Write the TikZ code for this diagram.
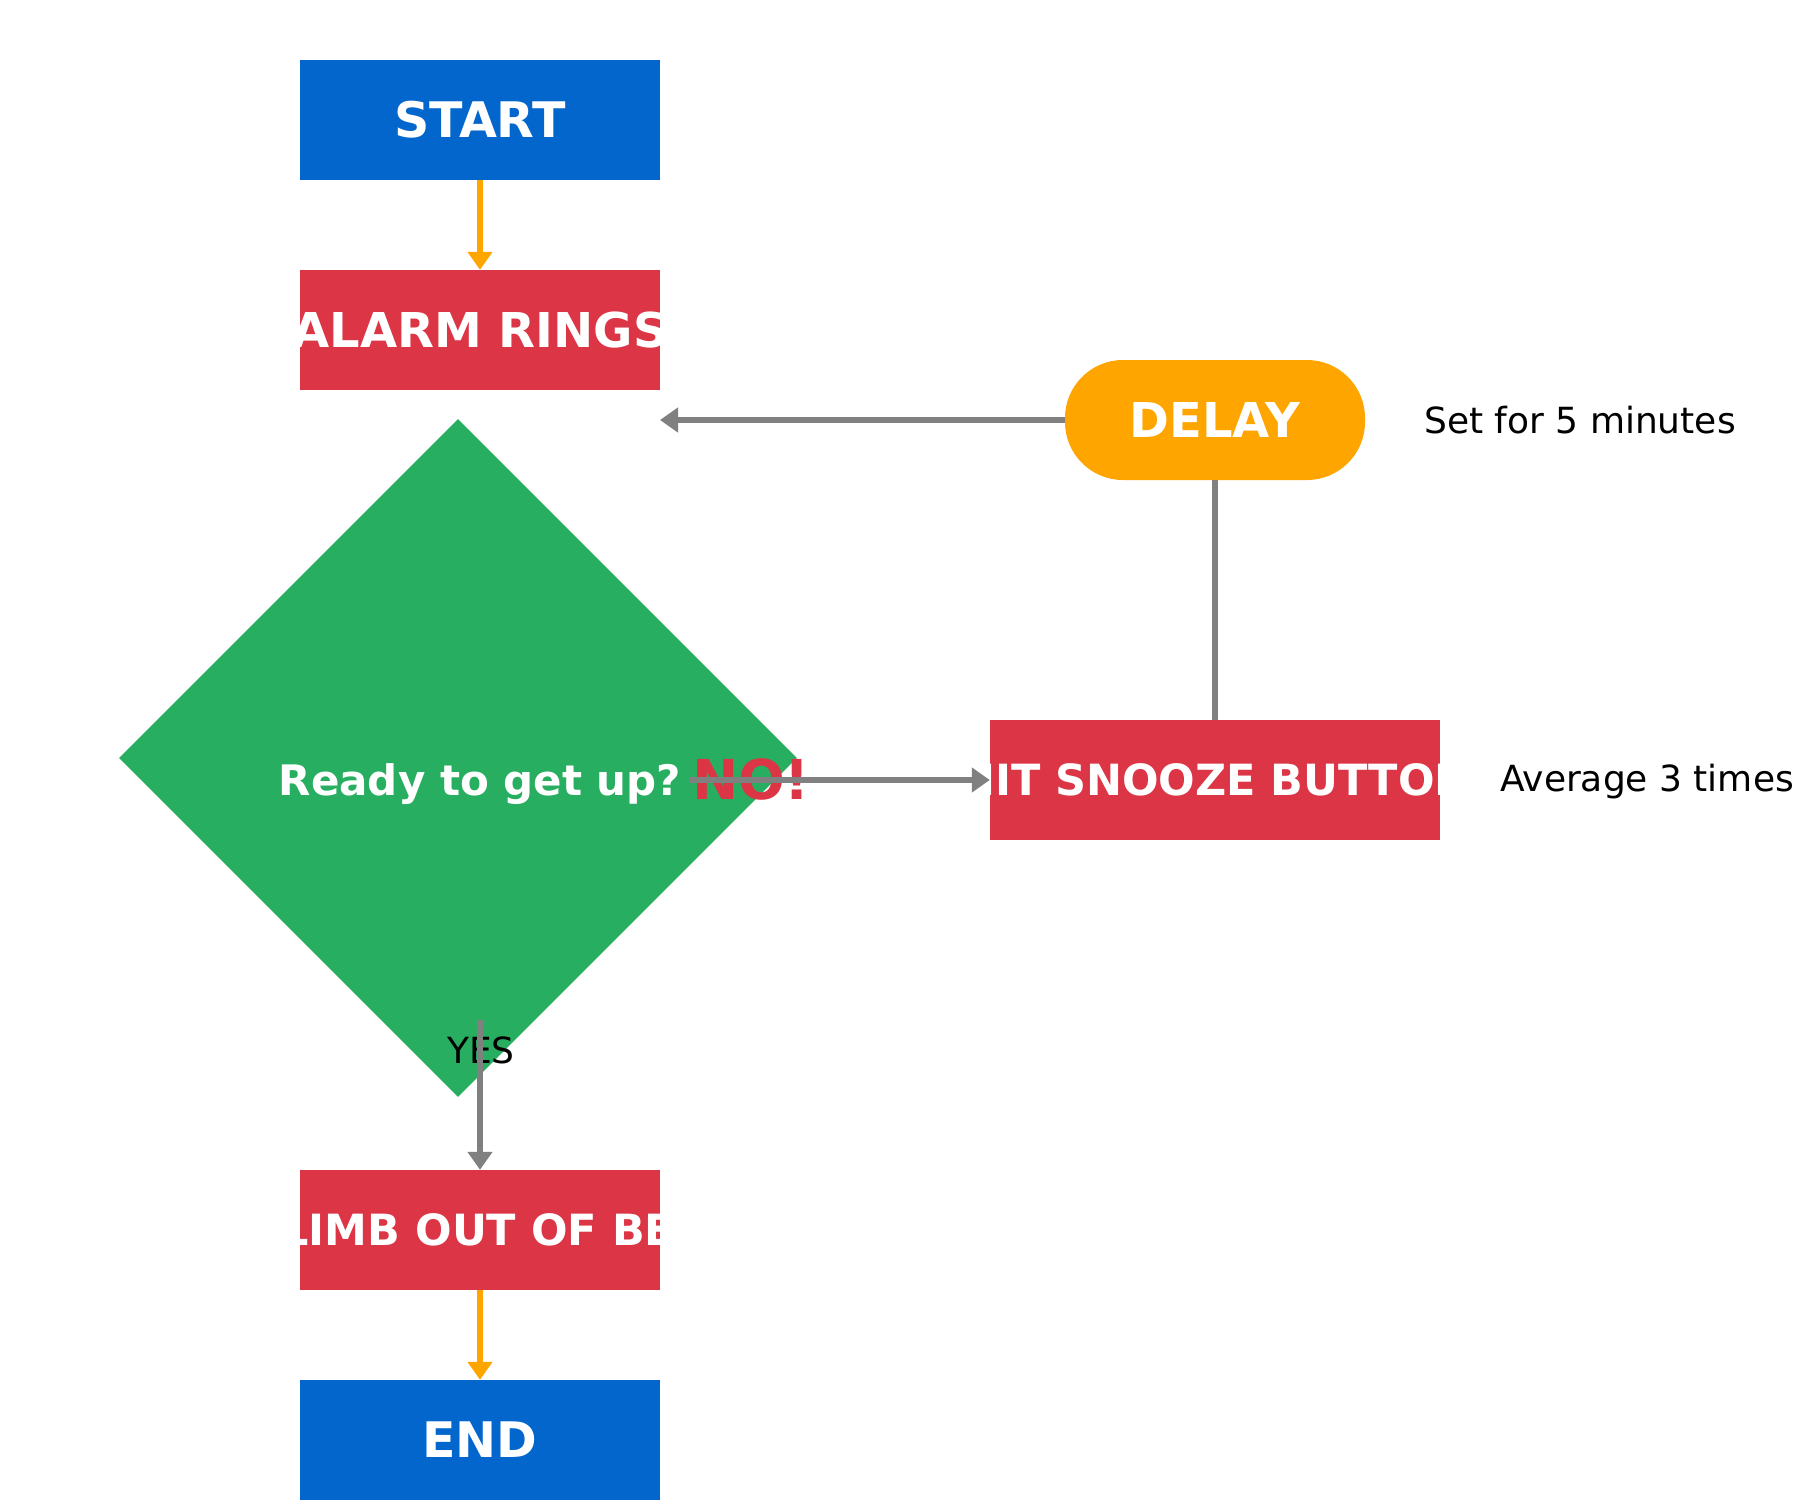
\documentclass[tikz,border=0pt]{standalone}
\usepackage{fontspec}
\setmainfont{DejaVu Sans}
\usetikzlibrary{shapes.geometric,arrows.meta,backgrounds}

\definecolor{termblue}{HTML}{0366CC}
\definecolor{stepred}{HTML}{DC3545}
\definecolor{askgreen}{HTML}{28AE60}
\definecolor{waitorange}{HTML}{FFA500}
\definecolor{flowgray}{HTML}{808080}

\newcommand{\spill}[1]{\makebox[0pt]{#1}}

\tikzset{
  box/.style={rectangle,inner sep=0pt,minimum width=360pt,minimum height=120pt,text=white},
  big/.style={font=\fontsize{49}{58}\selectfont\bfseries},
  mid/.style={font=\fontsize{43}{52}\selectfont\bfseries},
  note/.style={font=\fontsize{36}{43}\selectfont,anchor=base west},
  flow/.style={line width=6pt,color=flowgray},
  tip/.style={-{Triangle[width=24pt,length=18pt]}}
}

\begin{document}
\begin{tikzpicture}[x=1pt,y=-1pt]
  \useasboundingbox[fill=white] (0,0) rectangle (1800,1500);

  \node[box,big,fill=termblue] (start) at (480,120) {START};
  \node[box,big,fill=stepred,font=\fontsize{48}{56}\selectfont\bfseries] (alarm) at (480,330) {\spill{ALARM RINGS}};
  \node[box,mid,fill=stepred] (climb) at (480,1230) {\spill{CLIMB OUT OF BED}};
  \node[box,big,fill=termblue] (finish) at (480,1440) {END};

  \node[box,fill=waitorange,minimum width=300pt,rounded corners=58pt,font=\fontsize{48}{56}\selectfont\bfseries] (delay) at (1215,420) {DELAY};
  \node[box,mid,fill=stepred,minimum width=450pt] (snooze) at (1215,780) {\spill{HIT SNOOZE BUTTON}};

  \node[diamond,aspect=1,inner sep=0pt,minimum width=678pt,minimum height=678pt,fill=askgreen] (decide) at (458,758) {};
  \node[text=white,anchor=base,inner sep=0pt,font=\fontsize{42}{50}\selectfont\bfseries] (ask) at (480,795) {Ready to get up?};
  \node[text=stepred,anchor=base,inner sep=0pt,font=\fontsize{55}{64}\selectfont\bfseries] (no) at (751,799) {NO!};
  \node[note,anchor=base,inner sep=0pt] (yes) at (481,1063) {YES};

  \node[note,inner sep=0pt] (delaynote) at (1424,433) {Set for 5 minutes};
  \node[note,inner sep=0pt] (snoozenote) at (1500,791) {Average 3 times};

  \coordinate (back) at (660,420);
  \coordinate (nofrom) at (690,780);
  \coordinate (yesfrom) at (480,1020);

  \begin{scope}[on background layer]
    \draw[flow] (alarm.south) -- (alarm.south |- decide.center);
  \end{scope}

  \draw[flow,tip,color=waitorange] (start) -- (alarm);
  \draw[flow,tip,color=waitorange] (climb) -- (finish);
  \draw[flow,tip] (yesfrom) -- (climb.north);
  \draw[flow,tip] (nofrom) -- (snooze.west);
  \draw[flow,tip] (delay.west) -- (back);
  \draw[flow] (delay.south) -- (snooze.north);
\end{tikzpicture}
\end{document}
